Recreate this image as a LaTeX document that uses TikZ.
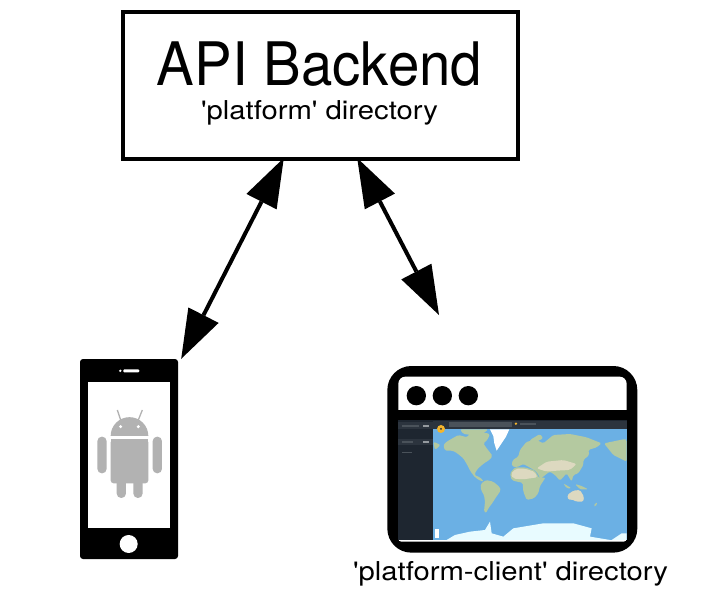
\documentclass[tikz,border=0pt]{standalone}
\usepackage{fontspec}
\usetikzlibrary{arrows.meta,calc}
\newfontfamily\lab{TeX Gyre Heros}
\definecolor{robotgrey}{HTML}{B2B2B2}
\definecolor{landgreen}{HTML}{B4C9A0}
\definecolor{sand}{HTML}{DDD9C0}
\definecolor{sea}{HTML}{6BB0E4}
\definecolor{ice}{HTML}{E8FBFF}
\definecolor{appdark}{HTML}{1E2630}
\definecolor{appbar}{HTML}{2C343E}
\definecolor{appfield}{HTML}{4A525A}
\definecolor{amber}{HTML}{F4B52C}
\tikzset{
  every node/.style={font=\lab},
  boxnode/.style={draw=black,line width=4pt,fill=white,minimum width=395pt,minimum height=147pt,inner sep=0pt},
  titletext/.style={anchor=base,inner sep=0pt,transform shape,xscale=0.94,font=\lab\fontsize{60}{64}\selectfont},
  subtext/.style={anchor=base,inner sep=0pt,transform shape,xscale=1.125,font=\lab\fontsize{26}{30}\selectfont},
  phonebody/.style={fill=black,rounded corners=3pt,minimum width=98pt,minimum height=200pt,inner sep=0pt},
  twoway/.style={line width=4pt,{Triangle[length=49pt,width=34pt,line width=0pt]}-{Triangle[length=49pt,width=34pt,line width=0pt]}},
  robot/.style={fill=robotgrey},
  land/.style={fill=landgreen,rounded corners=1.5pt},
  desert/.style={fill=sand,rounded corners=2pt},
}
\begin{document}
\begin{tikzpicture}[x=1pt,y=-1pt]
\useasboundingbox (0,0) rectangle (723,597);
\fill[white] (0,0) rectangle (723,597);
% backend
\node[boxnode] (backend) at (320.5,85.5) {};
\node[titletext] (title) at (319.5,85) {API Backend};
\node[subtext] (sub) at (319.5,119.5) {'platform' directory};
% phone
\node[phonebody] (phone) at (129,459) {};
\begin{scope}[shift={(70,350)},x=0.3333pt,y=-0.3333pt]
  \fill[white] (55,95) rectangle (300,533);
  \fill[white] (176,582) circle (27);
  \fill[white,rounded corners=1pt] (160,58) rectangle (208,67);
  \fill[white] (151,62.5) circle (4);
  % android
  \fill[robot] (122,258) arc[start angle=180,end angle=360,radius=56.5] -- cycle;
  \fill[robot,rounded corners=3pt] (122,268) rectangle (235,400);
  \fill[robot] (122,268) rectangle (235,300);
  \fill[robot,rounded corners=4.5pt] (82,260) rectangle (110,370);
  \fill[robot,rounded corners=4.5pt] (248,260) rectangle (276,370);
  \fill[robot,rounded corners=4.5pt] (140,380) rectangle (168,444);
  \fill[robot,rounded corners=4.5pt] (190,380) rectangle (218,444);
  \draw[robotgrey,line width=1.3pt] (152,210) -- (142,180);
  \draw[robotgrey,line width=1.3pt] (205,210) -- (217,180);
  \fill[white] (152,230) circle (5);
  \fill[white] (205,230) circle (5);
\end{scope}
% browser
\begin{scope}[shift={(380,360)},x=0.3333pt,y=-0.3333pt]
  \fill[black,rounded corners=24pt] (22,18) rectangle (772,578);
  \fill[white,rounded corners=7pt] (55,50) rectangle (740,180);
  \fill[black] (55,150) rectangle (740,180);
  \fill[white,rounded corners=3pt] (55,500) rectangle (740,545);
  \fill[appdark] (55,180) rectangle (740,540);
  \fill[sea] (160,208) rectangle (740,540);
  \fill[appbar] (160,182) rectangle (740,208);
  \fill[appfield] (208,185) rectangle (396,202);
  \fill[amber] (408,191) circle (4);
  \fill[appfield] (420,189) rectangle (468,194);
  \fill[appbar] (55,185) rectangle (158,208);
  \fill[appfield] (65,194) rectangle (118,201);
  \fill[white!50!appbar] (128,194) rectangle (148,201);
  \fill[appbar] (55,236) rectangle (158,256);
  \fill[appfield] (65,242) rectangle (100,249);
  \fill[white!50!appbar] (128,242) rectangle (148,249);
  \fill[appfield] (65,275) rectangle (95,279);
  \foreach \cx in {109,187,265} {\fill[black] (\cx,107) circle (29);}
  % land
  \fill[land] (190,255) -- (200,245) -- (235,225) -- (262,232) -- (270,218) -- (300,215) -- (330,222) -- (322,240) -- (310,250) -- (318,262) -- (338,288) -- (328,300) -- (312,310) -- (300,320) -- (290,330) -- (283,345) -- (300,352) -- (312,365) -- (300,362) -- (285,352) -- (272,335) -- (262,315) -- (250,295) -- (232,280) -- (218,272) -- (195,272) -- cycle;
  \fill[land] (240,208) -- (325,208) -- (310,220) -- (285,226) -- (250,222) -- cycle;
  \fill[land] (302,372) -- (318,360) -- (340,365) -- (360,382) -- (362,392) -- (348,412) -- (335,432) -- (325,445) -- (318,460) -- (312,455) -- (315,425) -- (312,405) -- (303,390) -- cycle;
  \fill[land] (395,318) -- (398,300) -- (415,290) -- (420,270) -- (440,245) -- (470,240) -- (490,250) -- (520,225) -- (570,222) -- (620,232) -- (665,250) -- (650,262) -- (625,270) -- (628,285) -- (610,300) -- (610,315) -- (595,340) -- (580,345) -- (575,365) -- (560,340) -- (540,362) -- (525,345) -- (510,335) -- (495,345) -- (482,358) -- (470,335) -- (445,320) -- (430,312) -- (410,322) -- cycle;
  \fill[land] (390,340) -- (405,322) -- (435,322) -- (465,332) -- (478,355) -- (497,352) -- (480,378) -- (475,400) -- (462,415) -- (440,420) -- (430,395) -- (428,368) -- (410,365) -- (395,360) -- cycle;
  \fill[desert] (392,342) -- (408,326) -- (435,326) -- (465,336) -- (472,352) -- (430,358) -- (400,356) -- cycle;
  \fill[desert] (470,325) -- (500,305) -- (550,300) -- (590,312) -- (570,330) -- (530,332) -- (500,335) -- cycle;
  \fill[land,fill=sand] (562,405) -- (580,392) -- (600,390) -- (612,410) -- (610,425) -- (590,425) -- (575,418) -- (565,420) -- cycle;
  \fill[land] (640,438) -- (652,425) -- (648,440) -- cycle;
  \fill[land] (672,250) -- (735,237) -- (740,240) -- (740,305) -- (700,285) -- cycle;
  \fill[land] (160,245) -- (182,255) -- (165,270) -- cycle;
  \fill[land] (550,370) -- (575,385) -- (560,385) -- cycle;
  \fill[land] (585,372) -- (605,378) -- (625,388) -- (600,388) -- cycle;
  \fill[land] (440,270) -- (450,240) -- (480,222) -- (490,235) -- (470,245) -- cycle;
  \fill[white] (330,208) -- (388,208) -- (378,230) -- (358,260) -- (350,272) -- (343,250) -- (340,228) -- cycle;
  % antarctica
  \fill[ice] (200,540) -- (225,525) -- (270,515) -- (315,510) -- (330,485) -- (335,520) -- (370,530) -- (400,505) -- (490,490) -- (580,490) -- (635,505) -- (630,530) -- (690,540) -- cycle;
  \fill[ice] (695,540) -- (725,520) -- (740,520) -- (740,540) -- cycle;
  \fill[white] (165,508) rectangle (178,535);
  \fill[amber] (183,207) circle (12);
  \fill[appdark] (183,207) circle (3);
\end{scope}
\node[subtext] (client) at (510.5,580) {'platform-client' directory};
% connectors
\coordinate (webend) at (439,315);
\coordinate (phonetip) at ($(phone.north east)+(3,0)$);
\coordinate (backL) at ($(backend.south west)!0.408!(backend.south east)+(0,-3)$);
\coordinate (backR) at ($(backend.south west)!0.592!(backend.south east)+(0,-3)$);
\draw[twoway] (backL) -- (phonetip);
\draw[twoway] (backR) -- (webend);
\end{tikzpicture}
\end{document}
